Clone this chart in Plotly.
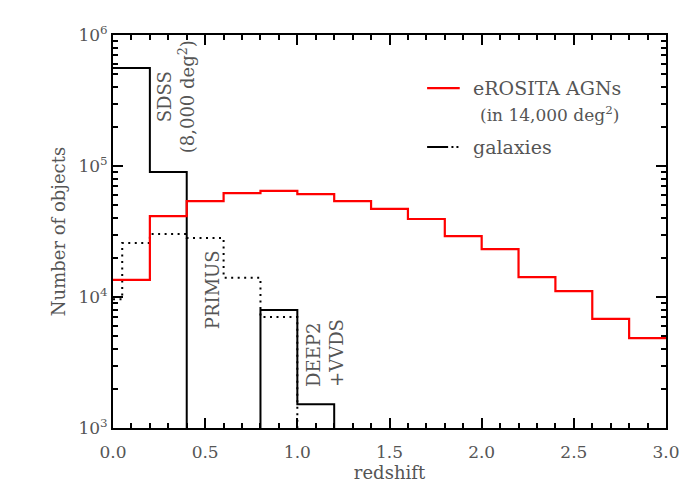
import plotly.graph_objects as go

# redshift bin edges and counts
agn_edges = [0.0, 0.2, 0.4, 0.6, 0.8, 1.0, 1.2, 1.4, 1.6, 1.8, 2.0, 2.2, 2.4, 2.6, 2.8, 3.0]
agn_counts = [13500, 41500, 54000, 62000, 64500, 61000, 54000, 47000, 39400, 29200, 23200, 14200, 11100, 6800, 4860]

sdss_edges = [0.0, 0.2, 0.4]
sdss_counts = [560000, 90000]

deep2_edges = [0.8, 1.0, 1.2]
deep2_counts = [7960, 1520]

primus_edges = [0.0, 0.05, 0.2, 0.4, 0.6, 0.8, 1.0]
primus_counts = [9600, 25800, 30300, 28200, 14000, 7030]

FLOOR = 100  # below the axis, so the drops run off the bottom


def steps(edges, counts, open_left=False, close_right=True):
    xs, ys = [], []
    if open_left:
        xs.append(edges[0])
        ys.append(FLOOR)
    for i, c in enumerate(counts):
        xs += [edges[i], edges[i + 1]]
        ys += [c, c]
    if close_right:
        xs.append(edges[-1])
        ys.append(FLOOR)
    return xs, ys


font = "DejaVu Serif"
txt = "#555555"

fig = go.Figure()

x, y = steps(primus_edges, primus_counts)
fig.add_trace(go.Scatter(x=x, y=y, mode="lines", line=dict(color="black", width=2, dash="2px,4.5px")))

x, y = steps(sdss_edges, sdss_counts)
fig.add_trace(go.Scatter(x=x, y=y, mode="lines", line=dict(color="black", width=2)))

x, y = steps(deep2_edges, deep2_counts, open_left=True)
fig.add_trace(go.Scatter(x=x, y=y, mode="lines", line=dict(color="black", width=2)))

x, y = steps(agn_edges, agn_counts, close_right=False)
fig.add_trace(go.Scatter(x=x, y=y, mode="lines", line=dict(color="red", width=2.2)))

# labels on the histograms
fig.add_annotation(x=0.34, y=5.53, xref="x", yref="y", text="SDSS<br>(8,000 deg<sup>2</sup>)",
                   textangle=-90, showarrow=False, font=dict(family=font, size=18, color=txt))
fig.add_annotation(x=0.537, y=4.06, xref="x", yref="y", text="PRIMUS",
                   textangle=-90, showarrow=False, font=dict(family=font, size=18, color=txt))
fig.add_annotation(x=1.15, y=3.573, xref="x", yref="y", text="DEEP2<br>+VVDS", align="left",
                   textangle=-90, showarrow=False, font=dict(family=font, size=18, color=txt))

# legend drawn by hand
fig.add_shape(type="line", xref="paper", yref="paper", x0=0.568, x1=0.627, y0=0.865, y1=0.865,
              line=dict(color="red", width=2.2))
fig.add_shape(type="line", xref="paper", yref="paper", x0=0.568, x1=0.606, y0=0.715, y1=0.715,
              line=dict(color="black", width=2))
fig.add_shape(type="line", xref="paper", yref="paper", x0=0.612, x1=0.627, y0=0.715, y1=0.715,
              line=dict(color="black", width=2, dash="2px,3px"))
fig.add_annotation(x=0.648, y=0.865, xref="paper", yref="paper", text="eROSITA AGNs",
                   xanchor="left", yanchor="middle",
                   showarrow=False, font=dict(family=font, size=19, color=txt))
fig.add_annotation(x=0.66, y=0.80, xref="paper", yref="paper", text="(in 14,000 deg<sup>2</sup>)",
                   xanchor="left", yanchor="middle",
                   showarrow=False, font=dict(family=font, size=17, color=txt))
fig.add_annotation(x=0.648, y=0.715, xref="paper", yref="paper", text="galaxies",
                   xanchor="left", yanchor="middle",
                   showarrow=False, font=dict(family=font, size=19, color=txt))

fig.update_xaxes(range=[0, 3], tickvals=[0, 0.5, 1, 1.5, 2, 2.5, 3],
                 ticktext=["0.0", "0.5", "1.0", "1.5", "2.0", "2.5", "3.0"],
                 ticks="inside", ticklen=10, tickwidth=1.5, tickcolor="black",
                 ticklabelstandoff=8,
                 minor=dict(dtick=0.1, ticks="inside", ticklen=5, tickcolor="black"),
                 showline=True, linecolor="black", linewidth=2, mirror="ticks",
                 showgrid=False, zeroline=False,
                 title=dict(text="redshift", standoff=4, font=dict(size=18)),
                 tickfont=dict(family=font, size=17, color=txt))

decades = [1e3, 1e4, 1e5, 1e6]
minor_vals = [m * d for d in decades[:-1] for m in range(2, 10)]
fig.update_yaxes(type="log", range=[3, 6], tickvals=decades,
                 ticktext=["10<sup>3</sup>", "10<sup>4</sup>", "10<sup>5</sup>", "10<sup>6</sup>"],
                 ticks="inside", ticklen=10, tickwidth=1.5, tickcolor="black",
                 minor=dict(tickvals=minor_vals, ticks="inside", ticklen=5, tickcolor="black"),
                 showline=True, linecolor="black", linewidth=2, mirror="ticks",
                 showgrid=False, zeroline=False,
                 title=dict(text="Number of objects", standoff=8, font=dict(size=18)),
                 tickfont=dict(family=font, size=17, color=txt))

# the page body adds an 8px margin, so the figure is a bit smaller than the window
fig.update_layout(width=684, height=484, showlegend=False,
                  margin=dict(l=105, r=26, t=27, b=64),
                  plot_bgcolor="white", paper_bgcolor="white",
                  font=dict(family=font, size=18, color=txt))

fig.write_html("out.html")
